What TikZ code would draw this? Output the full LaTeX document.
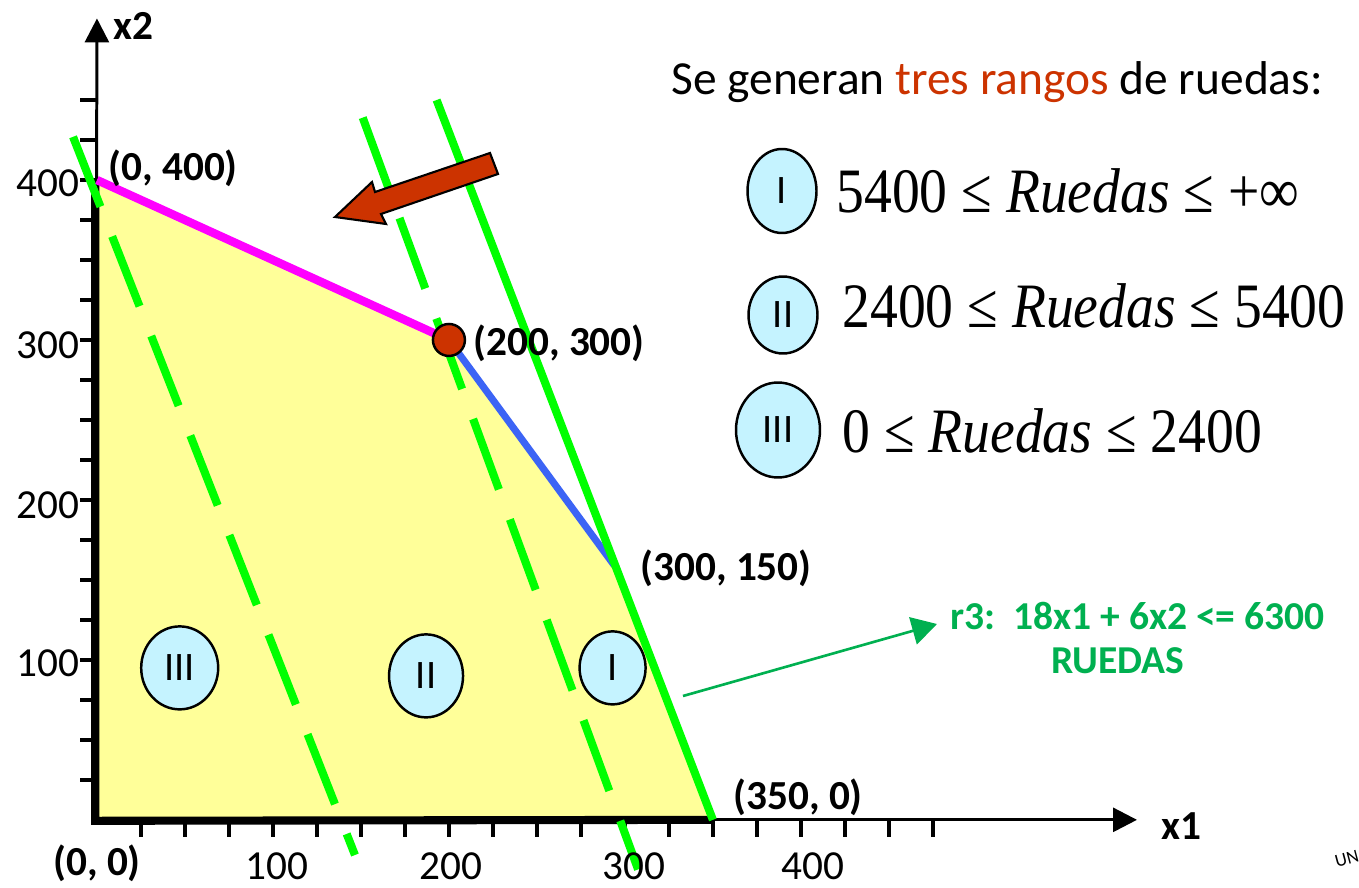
\documentclass[tikz,border=0pt]{standalone}
\usepackage{fontspec}
\setmainfont{Carlito}
\newfontfamily\timesfont[FakeStretch=0.88]{Liberation Serif}
\usetikzlibrary{arrows.meta,shapes.geometric}
\definecolor{feasible}{RGB}{255,255,153}
\definecolor{bubble}{RGB}{197,243,255}
\definecolor{rust}{RGB}{204,51,0}
\definecolor{limeline}{RGB}{0,255,0}
\definecolor{edgeblue}{RGB}{60,100,245}
\definecolor{edgepink}{RGB}{255,0,255}
\definecolor{notegreen}{RGB}{0,176,80}

\begin{document}
\begin{tikzpicture}[x=0.02cm, y=-0.02cm,
  tick/.style={line width=2pt},
  axisline/.style={line width=1.7pt, -{Triangle[length=0.48cm,width=0.48cm]}},
  ticklbl/.style={font=\fontsize{23.5}{28}\selectfont, inner sep=0pt},
  ptlbl/.style={font=\fontsize{23.5}{28}\selectfont\bfseries, inner sep=0pt},
  zone/.style={ellipse, draw, line width=1.4pt, fill=bubble, inner sep=0pt, font=\fontsize{23}{28}\selectfont},
  isoline/.style={limeline, line width=4.6pt},
  isodash/.style={isoline, dash pattern=on 1.5cm off 0.64cm},
  formula/.style={font=\fontsize{36}{42}\selectfont\timesfont, anchor=base west, inner sep=0pt}
]
\useasboundingbox (0,0) rectangle (1359,888);

% plot in data units
\begin{scope}[shift={(1.94cm,-16.4cm)}, x=0.0352cm, y=0.032cm]
  \coordinate (O) at (0,0);
  \coordinate (A) at (0,400);
  \coordinate (B) at (200,300);
  \coordinate (C) at (300,150);
  \coordinate (Cb) at (294,159);
  \coordinate (D) at (350,0);
  \coordinate (xend) at (591,0);
  \coordinate (yend) at (0,501);
  \fill[feasible] (O) -- (A) -- (B) -- (C) -- (D) -- cycle;
  \foreach \t in {25,50,...,475} \draw[tick] (\t,0) -- (\t,-11);
  \foreach \t in {25,50,...,450} \draw[tick] (0,\t) -- (-9.6,\t);
  \draw[axisline] (-2,0) -- (xend);
  \draw[axisline] (-1.2,-2) -- (yend);
  \draw[line width=4.6pt] (-1,400) -- (-1,-0.6) -- (D);
  \draw[isodash] (-13.6,427) -- (146.6,-22);
  \draw[isodash] (151,439) -- (307.5,-31);
  \draw[edgepink, line width=4.8pt] (A) -- (B);
  \draw[edgeblue, line width=4pt] (B) -- (Cb);
  \draw[isoline] (193,450) -- (D);
  \node[circle, draw, line width=1.4pt, fill=rust, minimum size=0.64cm, inner sep=0pt] (opt) at (B) {};
  \node[zone, minimum width=1.54cm, minimum height=1.66cm] (z3) at (47,95) {III};
  \node[zone, minimum width=1.48cm, minimum height=1.66cm] (z2) at (187,90) {II};
  \node[zone, minimum width=1.32cm, minimum height=1.46cm] (z1) at (293,95) {I};
\end{scope}

% axis labels
\foreach \v/\px in {100/277, 200/451, 300/634, 400/813}
  \node[ticklbl] (xl\v) at (\px,866) {\v};
\foreach \v/\py in {400/183, 300/345, 200/505, 100/663}
  \node[ticklbl, anchor=east] (yl\v) at (80,\py) {\v};
\node[ptlbl, anchor=west] (x2lbl) at (113,26) {x2};
\node[ptlbl, anchor=west] (x1lbl) at (1161,826) {x1};
\node[ptlbl] (lO) at (97,863) {(0, 0)};
\node[ptlbl, anchor=west] (lA) at (108,168) {(0, 400)};
\node[ptlbl, anchor=west] (lB) at (473,343) {(200, 300)};
\node[ptlbl, anchor=west] (lC) at (640,568) {(300, 150)};
\node[ptlbl, anchor=west] (lD) at (733,797) {(350, 0)};

% direction of improvement
\draw[fill=rust, line width=1.2pt, line join=miter] (490,153) -- (375,192) -- (372,182) -- (335,217)
  -- (386,224) -- (381,214) -- (498,174) -- cycle;

% ranges
\node[anchor=base west, inner sep=0pt, font=\fontsize{27}{32}\selectfont] (title) at (671,95)
  {Se generan \textcolor{rust}{tres rangos} de ruedas:};
\node[zone, minimum width=1.38cm, minimum height=1.68cm] (rI) at (782,191) {I};
\node[zone, minimum width=1.38cm, minimum height=1.54cm] (rII) at (783,315) {II};
\node[zone, minimum width=1.68cm, minimum height=1.9cm] (rIII) at (778,430) {III};
\node[formula] (fI) at (836,213) {5400 ≤ \textit{Ruedas} ≤ +∞};
\node[formula] (fII) at (842,328) {2400 ≤ \textit{Ruedas} ≤ 5400};
\node[formula] (fIII) at (842,452) {0 ≤ \textit{Ruedas} ≤ 2400};

% constraint note
\node[anchor=west, inner sep=0pt, text=notegreen, font=\fontsize{22.5}{26}\selectfont\bfseries] (r3) at (950,616)
  {r3:\ \ 18x1 + 6x2 <= 6300};
\node[anchor=north, inner sep=0pt, text=notegreen, font=\fontsize{22.5}{26}\selectfont\bfseries] (r3unit) at (1118,647) {RUEDAS};
\coordinate (rfrom) at (683,696);
\coordinate (rtip) at (937,624);
\draw[notegreen, line width=1.5pt, -{Triangle[length=0.5cm,width=0.56cm]}] (rfrom) -- (rtip);

\node[rotate=15, anchor=west, inner sep=0pt, font=\fontsize{10.5}{12}\selectfont] (wm) at (1335,862) {UN};
\end{tikzpicture}
\end{document}
